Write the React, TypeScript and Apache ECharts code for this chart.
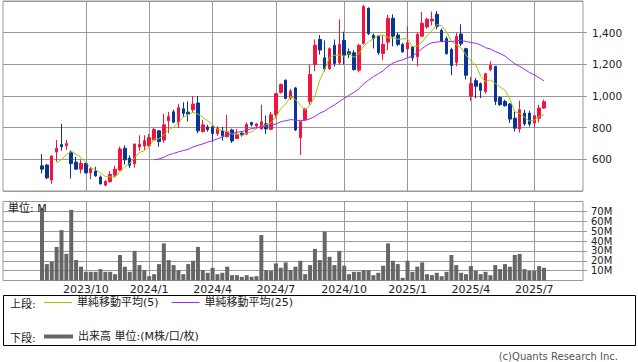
import React, { useEffect, useRef } from 'react';
import * as echarts from 'echarts';

// ---- categories (weekly, Monday dates) ----
const FIRST_CATEGORY = '2023-06-05';
const CATEGORY_COUNT = 120;
const FIRST_CANDLE_INDEX = 8; // first candle = 2023-07-31

// month-start ticks shown on the x axis
const tickDates = ['2023-10-02', '2024-01-01', '2024-04-01', '2024-07-01', '2024-10-07', '2025-01-06', '2025-04-07', '2025-07-07'];
const tickLabels = ['2023/10', '2024/1', '2024/4', '2024/7', '2024/10', '2025/1', '2025/4', '2025/7'];

// ---- weekly OHLC ----
const opens = [
  559, 564, 469, 646, 693, 686, 646, 583, 538, 575, 515, 526, 488, 437, 458, 500, 532, 670, 608, 572,
  678, 684, 686, 722, 780, 722, 843, 900, 835, 919, 898, 913, 956, 775, 805, 805, 763, 782, 743, 786,
  731, 765, 759, 832, 811, 792, 824, 790, 881, 1023, 1099, 987, 1051, 737, 850, 966, 1199, 1357, 1241, 1173,
  1320, 1210, 1351, 1279, 1273, 1163, 1332, 1554, 1383, 1378, 1269, 1340, 1491, 1385, 1326, 1298, 1309, 1248, 1378, 1436,
  1474, 1516, 1415, 1362, 1294, 1213, 1391, 1299, 998, 1097, 1078, 1029, 1167, 1188, 991, 966, 949, 860, 791, 892,
  892, 829, 860, 924,
];
const closes = [
  538, 483, 621, 670, 680, 699, 572, 538, 575, 515, 540, 496, 445, 460, 505, 538, 665, 597, 562, 697,
  695, 718, 737, 788, 712, 818, 870, 835, 926, 890, 886, 949, 780, 818, 788, 763, 797, 750, 775, 716,
  759, 754, 820, 818, 824, 837, 792, 881, 1015, 1072, 985, 1032, 786, 837, 918, 1136, 1321, 1290, 1172, 1299,
  1205, 1326, 1256, 1262, 1167, 1320, 1565, 1394, 1364, 1273, 1326, 1491, 1378, 1326, 1279, 1336, 1241, 1389, 1459, 1485,
  1485, 1440, 1347, 1267, 1192, 1377, 1330, 1131, 1078, 1061, 1036, 1141, 1194, 966, 945, 938, 854, 797, 913, 824,
  822, 875, 924, 964,
];
const lows = [
  511, 476, 445, 585, 655, 661, 479, 535, 511, 510, 475, 490, 441, 430, 455, 485, 525, 567, 545, 547,
  654, 660, 680, 720, 680, 705, 765, 828, 797, 868, 839, 900, 764, 770, 775, 712, 748, 718, 740, 703,
  731, 743, 755, 808, 794, 790, 761, 784, 860, 1015, 979, 975, 779, 627, 845, 946, 1156, 1262, 1156, 1165,
  1186, 1197, 1199, 1240, 1160, 1150, 1325, 1385, 1300, 1260, 1226, 1290, 1313, 1315, 1273, 1241, 1220, 1188, 1375, 1425,
  1446, 1421, 1340, 1262, 1131, 1188, 1315, 1104, 970, 985, 987, 1015, 1156, 943, 938, 934, 829, 775, 769, 811,
  807, 801, 832, 918,
];
const highs = [
  634, 570, 625, 722, 824, 722, 657, 615, 600, 580, 553, 553, 498, 469, 525, 560, 680, 689, 625, 697,
  752, 752, 760, 800, 785, 888, 900, 913, 951, 960, 966, 1000, 1000, 850, 818, 812, 808, 805, 881, 794,
  792, 780, 833, 838, 828, 945, 877, 900, 1015, 1079, 1105, 1045, 1057, 840, 925, 1198, 1357, 1385, 1351, 1307,
  1357, 1484, 1406, 1300, 1290, 1330, 1575, 1560, 1395, 1380, 1383, 1512, 1516, 1400, 1336, 1440, 1315, 1400, 1531, 1495,
  1533, 1537, 1426, 1375, 1305, 1400, 1453, 1305, 1120, 1114, 1086, 1146, 1220, 1188, 997, 977, 956, 902, 970, 913,
  907, 881, 945, 977,
];
// ---- weekly volume (millions) ----
const volumes = [
  73, 16.6, 19, 34, 51, 27, 71.5, 20.7, 14, 8.8, 8.8, 8.8, 11.5, 8.8, 8.8, 6.4, 25.8, 14, 8.8, 30,
  15.6, 10.5, 4.4, 6.4, 16.6, 37.6, 20.7, 15.6, 10.5, 6.4, 16.6, 20, 34, 10.5, 7.8, 12.9, 6.4, 7.8, 14, 5.4,
  5.4, 3.7, 5.4, 3.7, 4.4, 46, 10.5, 9.8, 17.3, 12.9, 18.3, 10.5, 14, 20, 6.4, 15.6, 32, 20.7, 49.5, 24,
  15.6, 30, 15, 6.4, 8.8, 8.8, 10.5, 10.5, 5.4, 7.8, 15, 37.6, 20, 16.6, 2.7, 20, 8.8, 14, 18.3, 6.4,
  5.4, 7.8, 4.4, 8.8, 25.8, 15.6, 7.8, 6.4, 14.6, 9.8, 6.4, 8.8, 5.4, 15.6, 11.5, 16.6, 14, 25.8, 26.8, 11.5,
  9.8, 9.8, 14.6, 12.9,
];

const MA5_NAME = '単純移動平均(5)';
const MA25_NAME = '単純移動平均(25)';
const VOL_NAME = '出来高 単位:(M株/口/枚)';

const RED = '#f2133f';
const BLUE = '#0a3594';
const GRID = '#999999';
const FONT = "'DejaVu Sans', 'Noto Sans CJK JP', sans-serif";

function buildCategories(): string[] {
  const start = Date.parse(FIRST_CATEGORY + 'T00:00:00Z');
  const out: string[] = [];
  for (let i = 0; i < CATEGORY_COUNT; i++) {
    out.push(new Date(start + i * 7 * 86400000).toISOString().slice(0, 10));
  }
  return out;
}

function movingAverage(vals: number[], n: number): (number | string)[][] {
  const out: (number | string)[][] = [];
  vals.forEach((_, i) => {
    if (i < n - 2) return;
    const s = Math.max(0, i - n + 1);
    const w = vals.slice(s, i + 1);
    const avg = w.reduce((a, b) => a + b, 0) / w.length;
    out.push([FIRST_CANDLE_INDEX + i, Math.round(avg * 10) / 10]);
  });
  return out;
}

export default function App() {
  const ref = useRef<HTMLDivElement>(null);
  useEffect(() => {
    if (!ref.current) return;
    const chart = echarts.init(ref.current, undefined, { renderer: 'svg' });
    const cats = buildCategories();
    const tickSet = new Set(tickDates);
    const labelMap: Record<string, string> = {};
    tickDates.forEach((d, i) => (labelMap[d] = tickLabels[i]));

    const candleData = opens.map((o, i) => [FIRST_CANDLE_INDEX + i, o, closes[i], lows[i], highs[i]]);
    const volData = volumes.map((v, i) => [FIRST_CANDLE_INDEX + i, v]);

    const xCommon = {
      type: 'category',
      data: cats,
      boundaryGap: false,
      axisLine: { show: false },
      axisTick: { show: false },
      splitLine: {
        show: true,
        interval: (_i: number, v: string) => tickSet.has(v),
        lineStyle: { color: GRID, width: 1 },
      },
    };

    const option: any = {
      animation: false,
      backgroundColor: '#ffffff',
      textStyle: { fontFamily: FONT },
      grid: [
        { left: 3, top: 1, width: 580, height: 190, show: true, borderColor: GRID, borderWidth: 1, backgroundColor: 'transparent' },
        { left: 3, top: 201.5, width: 580, height: 79, show: true, borderColor: GRID, borderWidth: 1, backgroundColor: 'transparent' },
      ],
      xAxis: [
        { ...xCommon, gridIndex: 0, axisLabel: { show: false } },
        {
          ...xCommon,
          gridIndex: 1,
          axisLabel: {
            show: true,
            interval: (_i: number, v: string) => tickSet.has(v),
            formatter: (v: string) => labelMap[v] || '',
            color: '#222',
            fontSize: 11,
            fontFamily: FONT,
            margin: 3,
          },
        },
      ],
      yAxis: [
        {
          type: 'value',
          gridIndex: 0,
          position: 'right',
          min: 400,
          max: 1600,
          interval: 200,
          axisLine: { show: false },
          axisTick: { show: true, length: 4, lineStyle: { color: GRID } },
          axisLabel: {
            showMinLabel: false,
            showMaxLabel: false,
            formatter: (v: number) => v.toLocaleString('en-US'),
            color: '#222',
            fontSize: 10.5,
            fontFamily: FONT,
            margin: 9,
          },
          splitLine: { show: true, lineStyle: { color: GRID, width: 1 } },
        },
        {
          type: 'value',
          gridIndex: 1,
          position: 'right',
          min: 0,
          max: 80,
          interval: 10,
          axisLine: { show: false },
          axisTick: { show: true, length: 4, lineStyle: { color: GRID } },
          axisLabel: {
            showMinLabel: false,
            showMaxLabel: false,
            formatter: (v: number) => v + 'M',
            color: '#222',
            fontSize: 10,
            fontFamily: FONT,
            margin: 8,
          },
          splitLine: { show: true, lineStyle: { color: GRID, width: 1 } },
        },
      ],
      legend: [
        {
          left: 44,
          top: 297,
          padding: 0,
          data: [MA5_NAME, MA25_NAME],
          icon: 'rect',
          itemWidth: 28,
          itemHeight: 1,
          itemGap: 13,
          selectedMode: false,
          textStyle: { fontSize: 11, color: '#222', fontFamily: FONT },
        },
        {
          left: 44,
          top: 331,
          padding: 0,
          data: [VOL_NAME],
          icon: 'rect',
          itemWidth: 29,
          itemHeight: 4,
          selectedMode: false,
          textStyle: { fontSize: 11, color: '#222', fontFamily: FONT },
        },
      ],
      graphic: [
        { type: 'rect', shape: { x: 3.5, y: 295.5, width: 632, height: 50 }, style: { fill: 'none', stroke: '#000', lineWidth: 1 }, z: 10 },
        { type: 'text', x: 10, y: 304, style: { text: '上段:', fontSize: 11, fill: '#222', fontFamily: FONT, verticalAlign: 'middle' }, z: 10 },
        { type: 'text', x: 10, y: 338, style: { text: '下段:', fontSize: 11, fill: '#222', fontFamily: FONT, verticalAlign: 'middle' }, z: 10 },
        { type: 'text', x: 8, y: 208, style: { text: '単位: M', fontSize: 11, fill: '#222', fontFamily: FONT, verticalAlign: 'middle' }, z: 10 },
        { type: 'text', x: 618, y: 356, style: { text: '(c)Quants Research Inc.', fontSize: 10, fill: '#555', fontFamily: FONT, align: 'right', verticalAlign: 'middle' }, z: 10 },
      ],
      series: [
        {
          type: 'candlestick',
          name: 'price',
          xAxisIndex: 0,
          yAxisIndex: 0,
          barWidth: 3,
          encode: { x: 0, y: [1, 2, 3, 4] },
          itemStyle: { color: RED, color0: BLUE, borderColor: RED, borderColor0: BLUE, borderWidth: 1 },
          data: candleData,
        },
        {
          type: 'line',
          name: MA5_NAME,
          xAxisIndex: 0,
          yAxisIndex: 0,
          color: '#99cc00',
          symbol: 'none',
          lineStyle: { width: 1, color: '#99cc00' },
          data: movingAverage(closes, 5),
          z: 3,
        },
        {
          type: 'line',
          name: MA25_NAME,
          xAxisIndex: 0,
          yAxisIndex: 0,
          color: '#9a2cf5',
          symbol: 'none',
          lineStyle: { width: 1, color: '#9a2cf5' },
          data: movingAverage(closes, 25),
          z: 3,
        },
        {
          type: 'bar',
          name: VOL_NAME,
          xAxisIndex: 1,
          yAxisIndex: 1,
          barWidth: 4,
          color: '#666666',
          itemStyle: { color: '#666666' },
          data: volData,
        },
      ],
    };
    chart.setOption(option);
    return () => chart.dispose();
  }, []);
  return (
    <div
      ref={ref}
      style={{ position: 'fixed', left: 0, top: 0, width: 638, height: 362, background: '#fff' }}
    />
  );
}
